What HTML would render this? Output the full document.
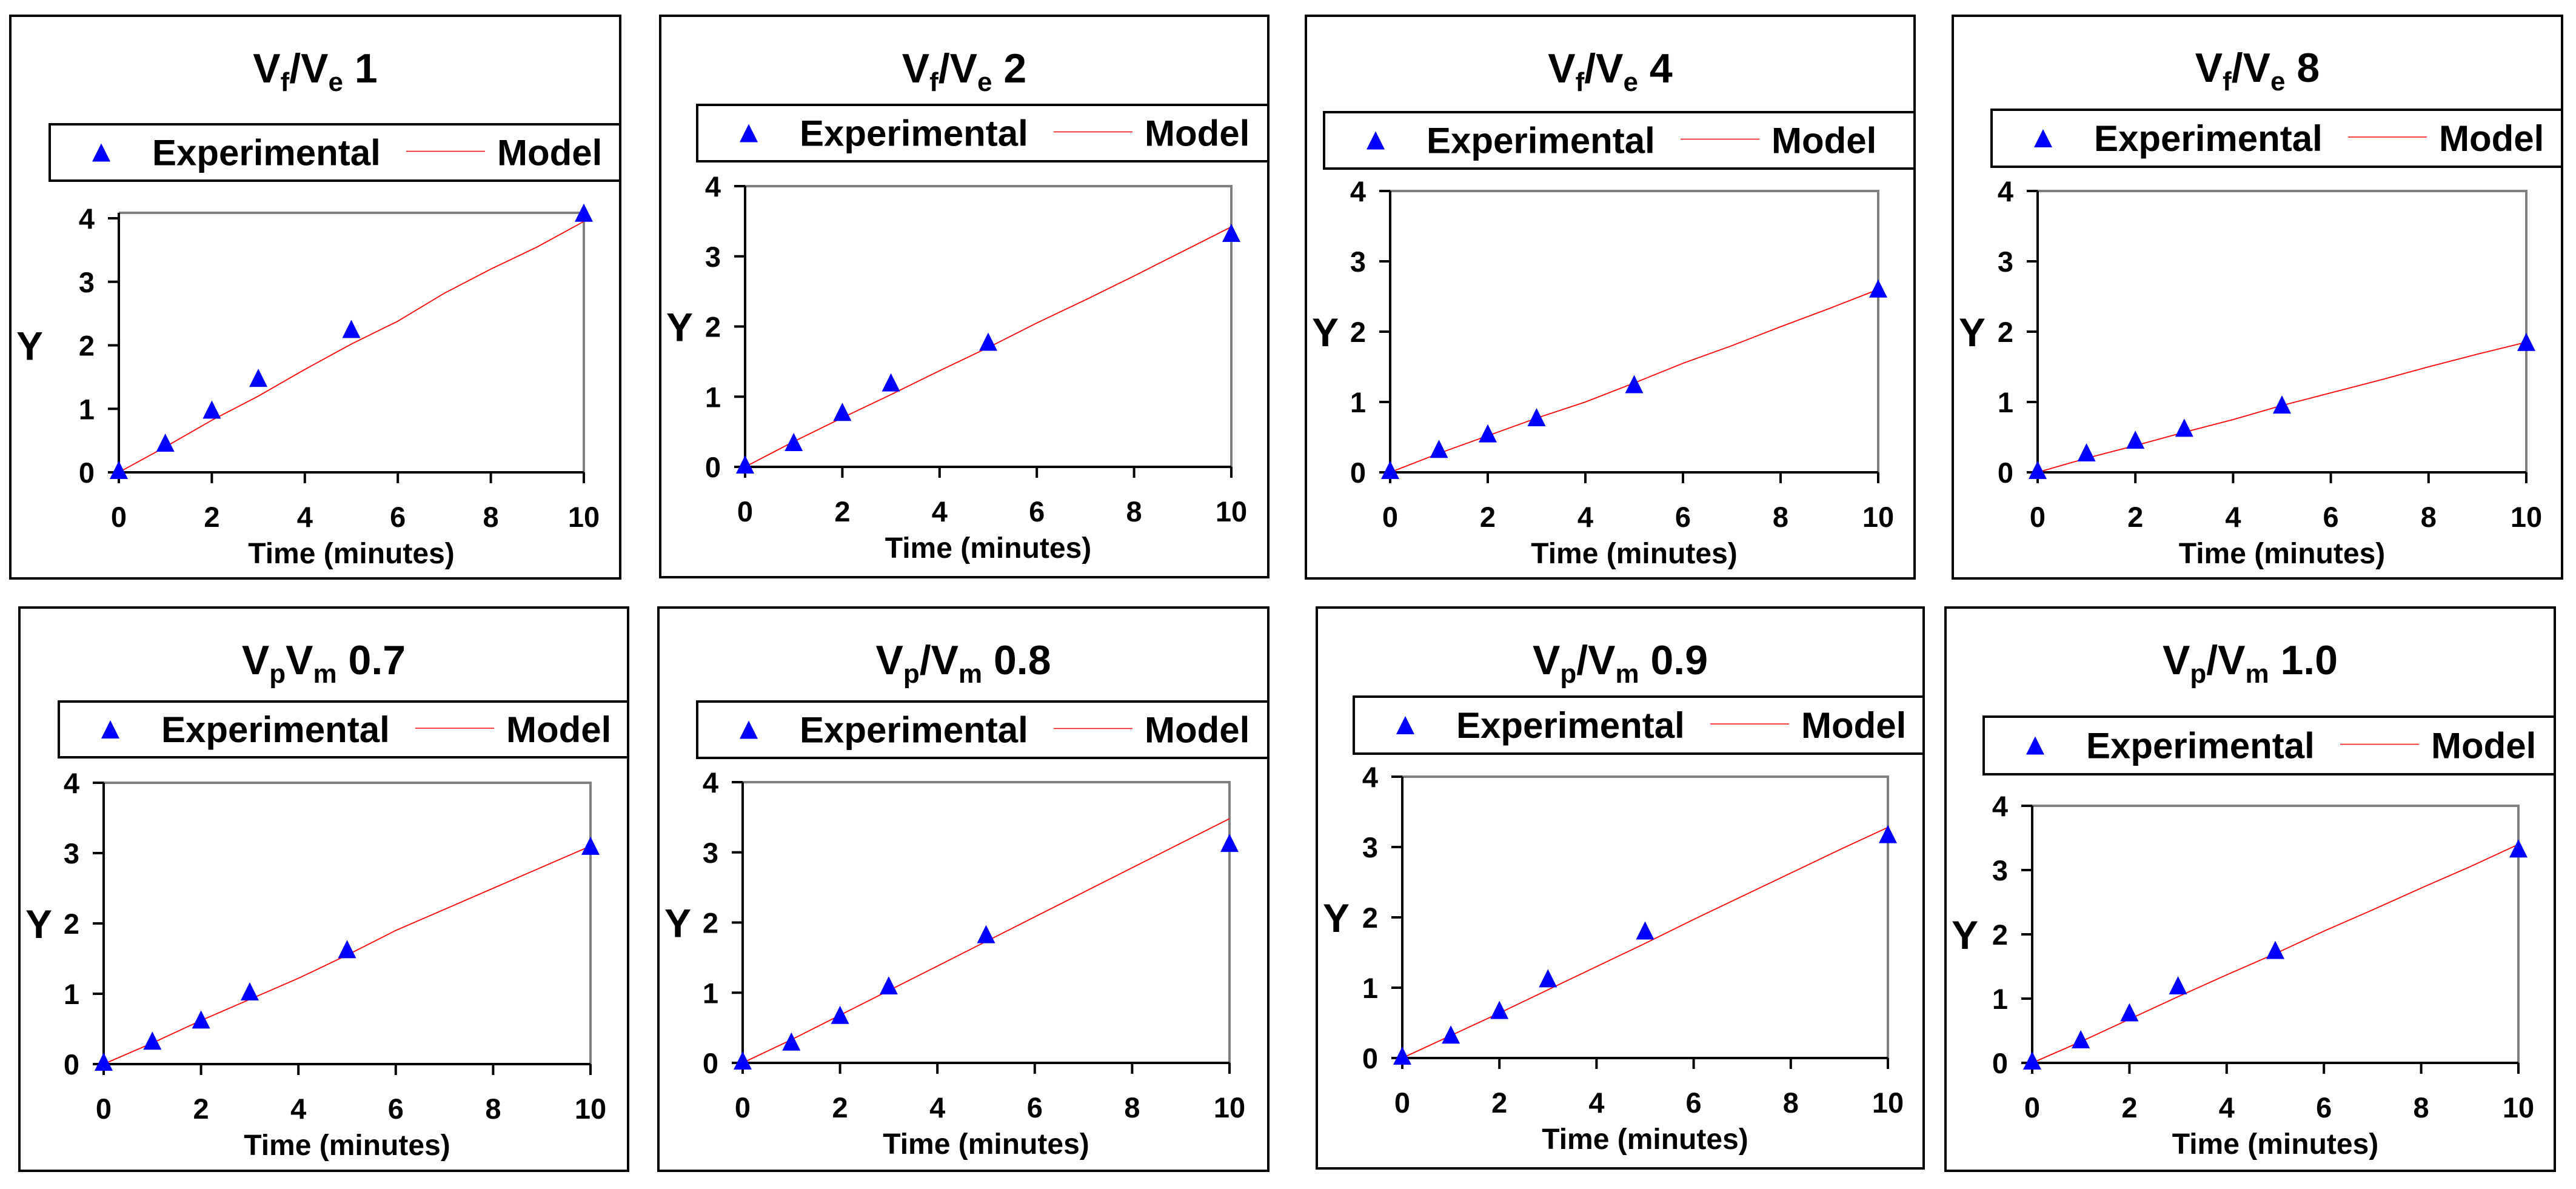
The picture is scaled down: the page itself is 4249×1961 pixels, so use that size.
<!DOCTYPE html>
<html><head><meta charset="utf-8">
<style>
html,body{margin:0;padding:0;background:#fff;}
svg{display:block;font-family:"Liberation Sans",Arial,sans-serif;font-weight:bold;}
</style></head>
<body>
<svg id="chart" width="4249" height="1961" viewBox="0 0 4249 1961" xmlns="http://www.w3.org/2000/svg"></svg>
<script>
const times = [0, 1, 2, 3, 5, 10];
const modelTimes = [0, 1, 2, 3, 4, 5, 6, 7, 8, 9, 10];
const xTicks = [0, 2, 4, 6, 8, 10];
const yTicks = [0, 1, 2, 3, 4];
const titleMain = ["V", "V", "V", "V", "V", "V", "V", "V"];
const titleSub1 = ["f", "f", "f", "f", "p", "p", "p", "p"];
const titleSep = ["/", "/", "/", "/", "", "/", "/", "/"];
const titleSub2 = ["e", "e", "e", "e", "m", "m", "m", "m"];
const titleVal = ["1", "2", "4", "8", "0.7", "0.8", "0.9", "1.0"];
const exp1 = [0, 0.43, 0.95, 1.45, 2.22, 4.05];
const exp2 = [0, 0.32, 0.75, 1.17, 1.75, 3.3];
const exp3 = [0, 0.3, 0.52, 0.75, 1.22, 2.58];
const exp4 = [0, 0.25, 0.43, 0.6, 0.93, 1.82];
const exp5 = [0, 0.3, 0.6, 1.0, 1.6, 3.07];
const exp6 = [0, 0.27, 0.65, 1.07, 1.8, 3.1];
const exp7 = [0, 0.3, 0.65, 1.1, 1.78, 3.15];
const exp8 = [0, 0.33, 0.75, 1.17, 1.72, 3.3];
const model1 = [0, 0.4, 0.82, 1.2, 1.62, 2.02, 2.38, 2.82, 3.2, 3.55, 3.95];
const model2 = [0, 0.36, 0.7, 1.03, 1.37, 1.7, 2.05, 2.38, 2.72, 3.07, 3.42];
const model3 = [0, 0.27, 0.52, 0.77, 1.0, 1.27, 1.55, 1.8, 2.07, 2.33, 2.6];
const model4 = [0, 0.2, 0.38, 0.57, 0.75, 0.95, 1.13, 1.31, 1.5, 1.68, 1.85];
const model5 = [0, 0.3, 0.62, 0.92, 1.22, 1.55, 1.9, 2.2, 2.5, 2.8, 3.1];
const model6 = [0, 0.33, 0.68, 1.03, 1.38, 1.73, 2.08, 2.43, 2.78, 3.13, 3.48];
const model7 = [0, 0.32, 0.64, 0.97, 1.3, 1.63, 1.97, 2.3, 2.63, 2.96, 3.28];
const model8 = [0, 0.33, 0.68, 1.03, 1.37, 1.7, 2.05, 2.38, 2.72, 3.05, 3.4];
const expAll = [exp1, exp2, exp3, exp4, exp5, exp6, exp7, exp8];
const modelAll = [model1, model2, model3, model4, model5, model6, model7, model8];

// layout (pixels)
const L = [
 {l:17,t:26,r:1023,b:954,x0:196,x10:963,z:779,y4:360,ft:351,lg:[82,205,298],ty:136},
 {l:1089,t:26,r:2092,b:952,x0:1229,x10:2031,z:770,y4:307,ft:307,lg:[1150,173,266],ty:136},
 {l:2154,t:26,r:3158,b:954,x0:2293,x10:3098,z:779,y4:315,ft:315,lg:[2184,185,278],ty:136},
 {l:3221,t:26,r:4226,b:954,x0:3361,x10:4167,z:779,y4:315,ft:315,lg:[3285,181,275],ty:135},
 {l:32,t:1002,r:1036,b:1931,x0:171,x10:974,z:1755,y4:1291,ft:1291,lg:[97,1157,1249],ty:1112},
 {l:1086,t:1002,r:2092,b:1931,x0:1225,x10:2028,z:1753,y4:1290,ft:1290,lg:[1150,1157,1250],ty:1112},
 {l:2172,t:1002,r:3173,b:1927,x0:2313,x10:3114,z:1745,y4:1281,ft:1281,lg:[2233,1149,1243],ty:1112},
 {l:3209,t:1002,r:4214,b:1931,x0:3352,x10:4154,z:1753,y4:1329,ft:1329,lg:[3272,1182,1277],ty:1112}
];
const NS = "http://www.w3.org/2000/svg";
const svg = document.getElementById("chart");
function mk(tag, attrs, parent) {
  const e = document.createElementNS(NS, tag);
  for (const k in attrs) e.setAttribute(k, attrs[k]);
  (parent || svg).appendChild(e);
  return e;
}
L.forEach((p, i) => {
  const g = mk("g", {});
  
  
  const xs = v => p.x0 + (p.x10 - p.x0) * v / 10;
  const ys = v => p.z - (p.z - p.y4) * v / 4;
  const border = mk("rect", {x:p.l, y:p.t, width:p.r - p.l, height:p.b - p.t, fill:"#fff", stroke:"#000", "stroke-width":4}, g);
  
  
  // title
  const cx = (p.l + p.r) / 2;
  const t = mk("text", {x:cx, y:p.ty, "text-anchor":"middle", "font-size":68}, g);
  
  
  const s1 = mk("tspan", {}, t); s1.textContent = titleMain[i];
  const s2 = mk("tspan", {"font-size":44, dy:14}, t); s2.textContent = titleSub1[i];
  const s3 = mk("tspan", {dy:-14}, t); s3.textContent = titleSep[i] + titleMain[i];
  const s4 = mk("tspan", {"font-size":44, dy:14}, t); s4.textContent = titleSub2[i];
  const s5 = mk("tspan", {dy:-14}, t); s5.textContent = " " + titleVal[i];
  // legend
  const lg = p.lg;
  const leg = mk("g", {}, g);
  
  
  mk("rect", {x:lg[0], y:lg[1], width:p.r - lg[0], height:lg[2] - lg[1], fill:"#fff", stroke:"#000", "stroke-width":4}, leg);
  const my = (lg[1] + lg[2]) / 2;
  const lt = mk("polygon", {points:`${lg[0]+85},${my-15} ${lg[0]+100},${my+15} ${lg[0]+70},${my+15}`, fill:"#0000ff"}, leg);
  
  
  const e1 = mk("text", {x:lg[0] + 169, y:my + 21, "font-size":60}, leg);
  e1.textContent = "Experimental";
  
  
  const ll = mk("line", {x1:lg[0] + 588, x2:lg[0] + 718, y1:my - 2, y2:my - 2, stroke:"#ff0000", "stroke-width":1.5}, leg);
  
  
  const e2 = mk("text", {x:lg[0] + 738, y:my + 21, "font-size":60}, leg);
  e2.textContent = "Model";
  
  
  // frame
  mk("polyline", {points:`${p.x0},${p.ft} ${p.x10},${p.ft} ${p.x10},${p.z}`, fill:"none", stroke:"#808080", "stroke-width":4}, g);
  const ax = mk("line", {x1:p.x0, x2:p.x10, y1:p.z, y2:p.z, stroke:"#000", "stroke-width":4}, g);
  
  
  const ay = mk("line", {x1:p.x0, x2:p.x0, y1:p.ft, y2:p.z + 2, stroke:"#000", "stroke-width":4}, g);
  
  
  yTicks.forEach(v => {
    mk("line", {x1:p.x0 - 18, x2:p.x0, y1:ys(v), y2:ys(v), stroke:"#000", "stroke-width":4}, g);
    const tl = mk("text", {x:p.x0 - 40, y:ys(v) + 17, "text-anchor":"end", "font-size":47}, g);
    tl.textContent = v;
    
    
  });
  xTicks.forEach(v => {
    mk("line", {x1:xs(v), x2:xs(v), y1:p.z, y2:p.z + 18, stroke:"#000", "stroke-width":4}, g);
    const tl = mk("text", {x:xs(v), y:p.z + 90, "text-anchor":"middle", "font-size":47}, g);
    tl.textContent = v;
    
    
  });
  const xt = mk("text", {x:(p.x0 + p.x10) / 2, y:p.z + 150, "text-anchor":"middle", "font-size":48}, g);
  xt.textContent = "Time (minutes)";
  
  
  const yt = mk("text", {x:p.l + 32, y:ys(2) + 24, "text-anchor":"middle", "font-size":66}, g);
  yt.textContent = "Y";
  
  
  // model line
  const pts = modelTimes.map((m, k) => `${xs(m)},${ys(modelAll[i][k])}`).join(" ");
  const ml = mk("polyline", {points:pts, fill:"none", stroke:"#ff0000", "stroke-width":1.8}, g);
  
  
  // experimental markers
  times.forEach((tm, k) => {
    const px = xs(tm), py = ys(expAll[i][k]);
    const tri = mk("polygon", {points:`${px},${py-19} ${px+15},${py+11} ${px-15},${py+11}`, fill:"#0000ff"}, g);
    
    
  });
});
</script>
</body></html>
